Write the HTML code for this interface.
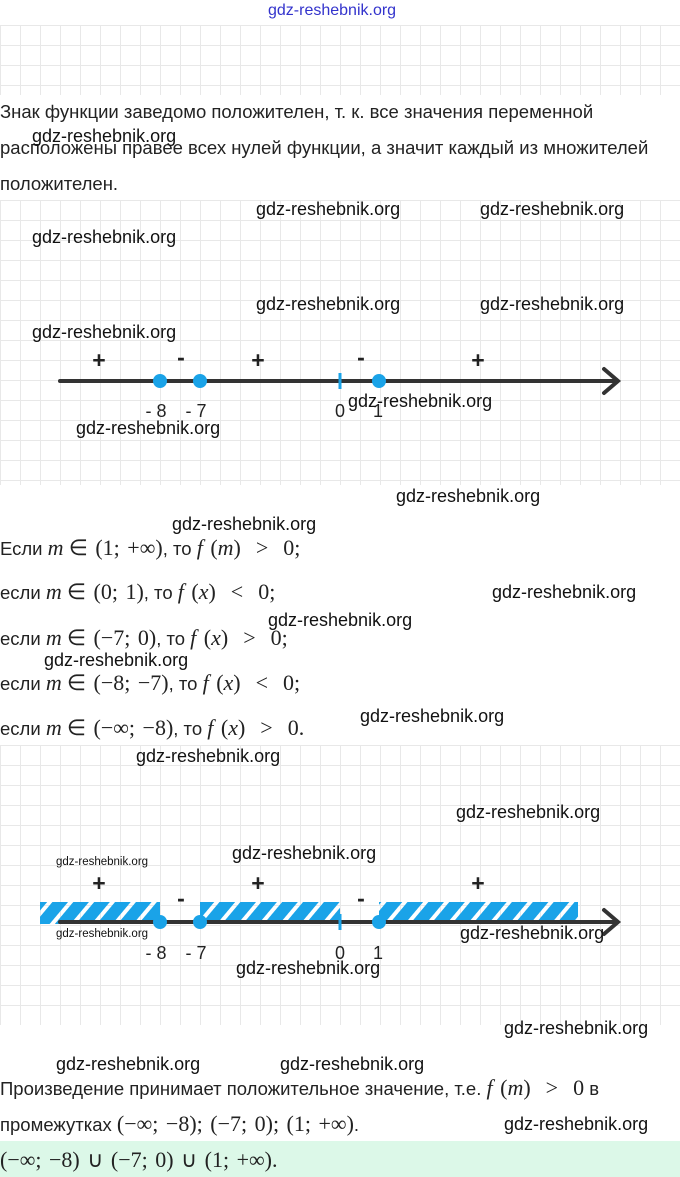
<!DOCTYPE html>
<html><head><meta charset="utf-8"><style>
body{margin:0;width:680px;height:1177px;position:relative;background:#fff;overflow:hidden;font-family:"Liberation Sans",sans-serif;color:#222}
.g{position:absolute;left:0;width:680px;background-image:linear-gradient(#e8e8e8 1px,transparent 1px),linear-gradient(90deg,#e8e8e8 1px,transparent 1px);background-size:20px 20px}
.t{position:absolute;left:0;font-size:18.5px;white-space:nowrap;line-height:20px}
.m{font-family:"Liberation Serif",serif;font-size:22px;word-spacing:2px}
.i{font-style:italic}
.w{position:absolute;font-size:17px;color:#111;white-space:nowrap;letter-spacing:0.3px;font-weight:bold;-webkit-text-stroke:0}
.w{font-weight:normal;font-size:18px;letter-spacing:0}
.ws{position:absolute;font-size:11.5px;color:#111;white-space:nowrap}
</style></head><body>
<div class="g" style="top:25px;height:70px"></div>
<div class="g" style="top:200px;height:285px"></div>
<div class="g" style="top:745px;height:280px"></div>
<div class="w" style="left:268px;top:2px;color:#3333cc;font-size:16px">gdz-reshebnik.org</div>

<div class="t" style="top:102px">Знак функции заведомо положителен, т. к. все значения переменной</div>
<div class="t" style="top:138px">расположены правее всех нулей функции, а значит каждый из множителей</div>
<div class="t" style="top:174px">положителен.</div>
<div class="w" style="left:32px;top:126px">gdz-reshebnik.org</div>

<svg style="position:absolute;left:0;top:200px" width="680" height="285">
<line x1="60" y1="181" x2="617" y2="181" stroke="#333" stroke-width="4" stroke-linecap="round"/>
<polyline points="604,169 618,181 604,193" fill="none" stroke="#333" stroke-width="4" stroke-linecap="round"/>
<circle cx="160" cy="181" r="7" fill="#1aa3e8"/><circle cx="200" cy="181" r="7" fill="#1aa3e8"/><circle cx="379" cy="181" r="7" fill="#1aa3e8"/>
<line x1="340" y1="173" x2="340" y2="189" stroke="#1aa3e8" stroke-width="3"/>
<g font-family="Liberation Sans" font-size="23" font-weight="bold" fill="#222" text-anchor="middle">
<text x="99" y="168">+</text><text x="181" y="165">-</text><text x="258" y="168">+</text><text x="361" y="165">-</text><text x="478" y="168">+</text></g>
<g font-family="Liberation Sans" font-size="18" fill="#222" text-anchor="middle">
<text x="156" y="217">- 8</text><text x="196" y="217">- 7</text><text x="340" y="217">0</text><text x="378" y="217">1</text></g>
</svg>
<div class="w" style="left:256px;top:199px">gdz-reshebnik.org</div>
<div class="w" style="left:480px;top:199px">gdz-reshebnik.org</div>
<div class="w" style="left:32px;top:227px">gdz-reshebnik.org</div>
<div class="w" style="left:256px;top:294px">gdz-reshebnik.org</div>
<div class="w" style="left:480px;top:294px">gdz-reshebnik.org</div>
<div class="w" style="left:32px;top:322px">gdz-reshebnik.org</div>
<div class="w" style="left:348px;top:391px">gdz-reshebnik.org</div>
<div class="w" style="left:76px;top:418px">gdz-reshebnik.org</div>
<div class="w" style="left:396px;top:486px">gdz-reshebnik.org</div>
<div class="w" style="left:172px;top:514px">gdz-reshebnik.org</div>

<div class="t" style="top:538px">Если <span class="m i">m</span> <span class="m">∈ (1; +∞)</span>, то <span class="m"><i>f</i> (<i>m</i>) &nbsp;&gt;&nbsp; 0;</span></div>
<div class="t" style="top:582px">если <span class="m i">m</span> <span class="m">∈ (0; 1)</span>, то <span class="m"><i>f</i> (<i>x</i>) &nbsp;&lt;&nbsp; 0;</span></div>
<div class="t" style="top:628px">если <span class="m i">m</span> <span class="m">∈ (−7; 0)</span>, то <span class="m"><i>f</i> (<i>x</i>) &nbsp;&gt;&nbsp; 0;</span></div>
<div class="t" style="top:673px">если <span class="m i">m</span> <span class="m">∈ (−8; −7)</span>, то <span class="m"><i>f</i> (<i>x</i>) &nbsp;&lt;&nbsp; 0;</span></div>
<div class="t" style="top:718px">если <span class="m i">m</span> <span class="m">∈ (−∞; −8)</span>, то <span class="m"><i>f</i> (<i>x</i>) &nbsp;&gt;&nbsp; 0.</span></div>
<div class="w" style="left:492px;top:582px">gdz-reshebnik.org</div>
<div class="w" style="left:268px;top:610px">gdz-reshebnik.org</div>
<div class="w" style="left:44px;top:650px">gdz-reshebnik.org</div>
<div class="w" style="left:360px;top:706px">gdz-reshebnik.org</div>
<div class="w" style="left:136px;top:746px">gdz-reshebnik.org</div>
<div class="w" style="left:456px;top:802px">gdz-reshebnik.org</div>

<svg style="position:absolute;left:0;top:840px" width="680" height="180">
<defs><pattern id="h" width="16" height="16" patternUnits="userSpaceOnUse" patternTransform="rotate(40)"><rect width="12" height="16" fill="#1aa3e8"/></pattern></defs>
<rect x="40" y="62" width="120" height="22" fill="url(#h)"/>
<rect x="200" y="62" width="140" height="22" fill="url(#h)"/>
<rect x="379" y="62" width="199" height="22" fill="url(#h)"/>
<line x1="60" y1="82" x2="617" y2="82" stroke="#333" stroke-width="4" stroke-linecap="round"/>
<polyline points="604,70 618,82 604,94" fill="none" stroke="#333" stroke-width="4" stroke-linecap="round"/>
<circle cx="160" cy="82" r="7" fill="#1aa3e8"/><circle cx="200" cy="82" r="7" fill="#1aa3e8"/><circle cx="379" cy="82" r="7" fill="#1aa3e8"/>
<line x1="340" y1="74" x2="340" y2="90" stroke="#1aa3e8" stroke-width="3"/>
<g font-family="Liberation Sans" font-size="23" font-weight="bold" fill="#222" text-anchor="middle">
<text x="99" y="51">+</text><text x="181" y="66">-</text><text x="258" y="51">+</text><text x="361" y="66">-</text><text x="478" y="51">+</text></g>
<g font-family="Liberation Sans" font-size="18" fill="#222" text-anchor="middle">
<text x="156" y="119">- 8</text><text x="196" y="119">- 7</text><text x="340" y="119">0</text><text x="378" y="119">1</text></g>
</svg>
<div class="ws" style="left:56px;top:856px">gdz-reshebnik.org</div>
<div class="ws" style="left:56px;top:928px">gdz-reshebnik.org</div>
<div class="w" style="left:232px;top:843px">gdz-reshebnik.org</div>
<div class="w" style="left:460px;top:923px">gdz-reshebnik.org</div>
<div class="w" style="left:236px;top:958px">gdz-reshebnik.org</div>
<div class="w" style="left:504px;top:1018px">gdz-reshebnik.org</div>
<div class="w" style="left:56px;top:1054px">gdz-reshebnik.org</div>
<div class="w" style="left:280px;top:1054px">gdz-reshebnik.org</div>

<div class="t" style="top:1078px">Произведение принимает положительное значение, т.е. <span class="m"><i>f</i> (<i>m</i>) &nbsp;&gt;&nbsp; 0</span> в</div>
<div class="t" style="top:1114px">промежутках <span class="m">(−∞; −8); (−7; 0); (1; +∞)</span>.</div>
<div class="w" style="left:504px;top:1114px">gdz-reshebnik.org</div>
<div style="position:absolute;left:0;top:1141px;width:680px;height:36px;background:#dcf8e8"></div>
<div class="t" style="top:1150px"><span class="m">(−∞; −8) ∪ (−7; 0) ∪ (1; +∞).</span></div>
</body></html>
